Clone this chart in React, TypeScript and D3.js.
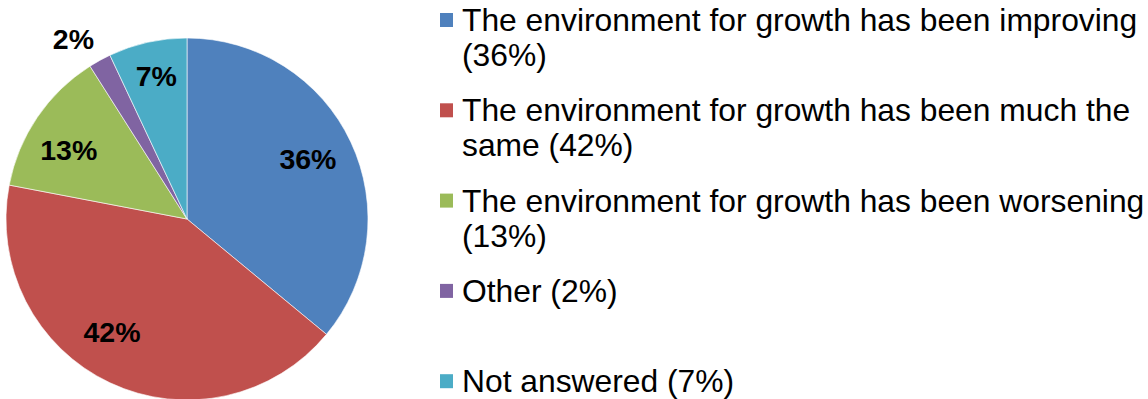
import React, { useMemo } from "react";
import * as d3 from "d3";

const categories = [
  "The environment for growth has been improving",
  "The environment for growth has been much the same",
  "The environment for growth has been worsening",
  "Other",
  "Not answered",
];
const values = [36, 42, 13, 2, 7];
const colors = ["#4F81BD", "#C0504D", "#9BBB59", "#8064A2", "#4BACC6"];

// label placement: radius factor + small nudge (Excel "best fit")
const labelRadius = [0.72, 0.72, 0.72, 1.2, 0.72];
const labelNudge: [number, number][] = [
  [3, -4.5],
  [-19.5, -5],
  [-10.5, 4.2],
  [-9, 10],
  [-2.3, -15.6],
];

const W = 1148;
const H = 399;
const CX = 187;
const CY = 219;
const R = 181;

const LEGEND_FONT = 31.8;
const LEGEND_X = 462;
const LEGEND_TOP = 31;
const LEGEND_STEP = 90.3;
const LINE_H = 35;
const LEGEND_MAX_W = 700;
const FONT_FAMILY = "'Liberation Sans', Arial, sans-serif";

function wrap(text: string, maxW: number, font: string): string[] {
  const canvas = document.createElement("canvas");
  const ctx = canvas.getContext("2d")!;
  ctx.font = font;
  const words = text.split(" ");
  const lines: string[] = [];
  let cur = "";
  for (const w of words) {
    const t = cur ? cur + " " + w : w;
    if (ctx.measureText(t).width > maxW && cur) {
      lines.push(cur);
      cur = w;
    } else cur = t;
  }
  if (cur) lines.push(cur);
  return lines;
}

export default function App() {
  const pie = d3
    .pie<number>()
    .sort(null)
    .value((d) => d)
    .startAngle(0)
    .endAngle(2 * Math.PI);
  const arcs = pie(values);
  const arc = d3.arc<d3.PieArcDatum<number>>().innerRadius(0).outerRadius(R);

  const legendLines = useMemo(
    () =>
      categories.map((c, i) =>
        wrap(`${c} (${values[i]}%)`, LEGEND_MAX_W, `${LEGEND_FONT}px 'Liberation Sans'`)
      ),
    []
  );

  return (
    <svg
      width={W}
      height={H}
      style={{ position: "absolute", left: 0, top: 0, background: "#fff" }}
      fontFamily={FONT_FAMILY}
    >
      <g transform={`translate(${CX},${CY})`}>
        {arcs.map((a, i) => (
          <path key={i} d={arc(a) || ""} fill={colors[i]} stroke="#fff" strokeWidth={0.6} />
        ))}
        {arcs.map((a, i) => {
          const lr = R * labelRadius[i];
          const la = d3.arc<d3.PieArcDatum<number>>().innerRadius(lr).outerRadius(lr);
          const [x, y] = la.centroid(a);
          return (
            <text
              key={"l" + i}
              x={x + labelNudge[i][0]}
              y={y + labelNudge[i][1]}
              dy="0.36em"
              textAnchor="middle"
              fontSize={28.5}
              fontWeight="bold"
              fill="#000"
            >
              {values[i]}%
            </text>
          );
        })}
      </g>
      <g>
        {legendLines.map((lines, i) => {
          const by = LEGEND_TOP + i * LEGEND_STEP;
          return (
            <g key={"lg" + i}>
              <rect x={440} y={by - 18} width={13} height={14} fill={colors[i]} />
              <text x={LEGEND_X} y={by} fontSize={LEGEND_FONT} fill="#000">
                {lines.map((ln, j) => (
                  <tspan key={j} x={LEGEND_X} y={by + j * LINE_H}>
                    {ln}
                  </tspan>
                ))}
              </text>
            </g>
          );
        })}
      </g>
    </svg>
  );
}
